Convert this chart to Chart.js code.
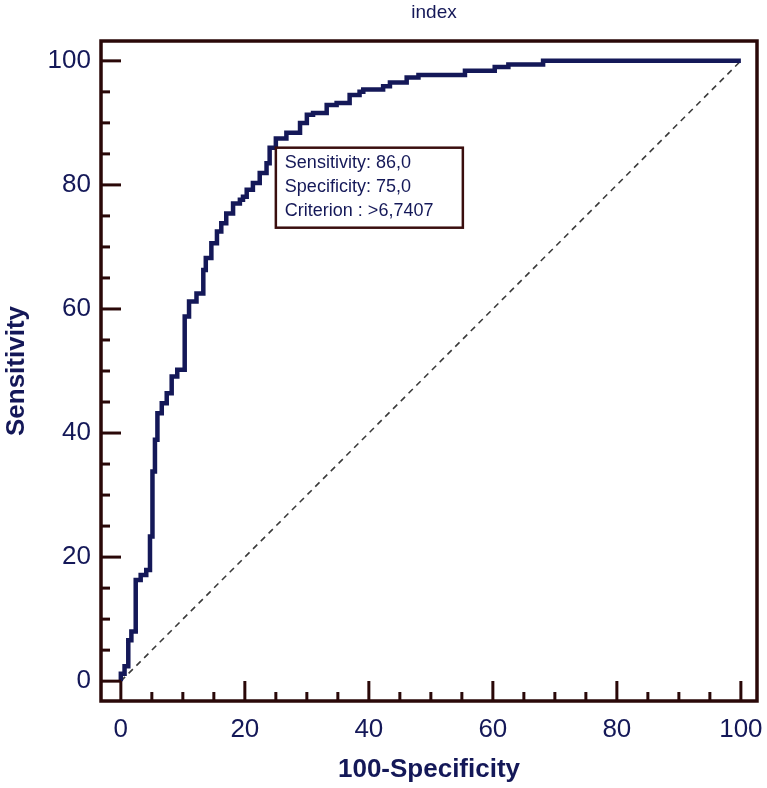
<!DOCTYPE html>
<html>
<head>
<meta charset="utf-8">
<script src="https://cdn.jsdelivr.net/npm/chart.js@4.4.1/dist/chart.umd.min.js"></script>
<style>
  body { margin: 0; background: #fff; }
</style>
</head>
<body>
<canvas id="rocChart" width="767" height="788"></canvas>
<script>
// ROC curve points (100-Specificity, Sensitivity)
const rocX = [0, 0.6, 1.2, 1.7, 2.4, 3.2, 4.1, 4.7, 5.1, 5.5, 5.9, 6.6, 7.4, 8.2, 9.1, 10.3, 11.0, 12.2, 13.3, 13.7,
  14.6, 15.5, 16.2, 17.0, 18.1, 19.2, 19.7, 20.3, 21.3, 22.4, 23.5, 24.0, 25.0, 26.7, 28.9, 30.0, 31.0, 33.2, 34.8,
  36.9, 38.5, 39.1, 42.3, 43.4, 46.1, 48.0, 55.5, 60.3, 62.5, 68.1, 76.7, 100];
const rocY = [0, 1.2, 2.4, 6.6, 8.0, 16.3, 17.1, 17.9, 23.3, 33.8, 38.9, 43.2, 44.8, 46.4, 49.1, 50.2, 58.8, 61.2, 62.5, 66.3,
  68.2, 70.6, 72.5, 73.8, 75.4, 77.0, 77.6, 78.1, 79.2, 80.3, 81.9, 83.5, 86.0, 87.5, 88.4, 90.0, 91.3, 91.6, 92.9,
  93.2, 94.5, 95.0, 95.4, 95.9, 96.5, 97.3, 97.7, 98.4, 99.0, 99.4, 100, 100];
const diagX = [0, 100];
const diagY = [0, 100];
const xTicks = [0, 20, 40, 60, 80, 100];
const yTicks = [0, 20, 40, 60, 80, 100];
const criterionPoint = [25, 86];
const criterionLines = ['Sensitivity: 86,0', 'Specificity: 75,0', 'Criterion : >6,7407'];

const navy = '#141858';
const frameColor = '#2a0808';

// frame, inward ticks, title and the criterion box
const framePlugin = {
  id: 'frame',
  afterDraw(chart) {
    const c = chart.ctx;
    const a = chart.chartArea;
    const xs = chart.scales.x;
    const ys = chart.scales.y;
    c.save();
    c.strokeStyle = frameColor;
    c.lineWidth = 3.5;
    c.strokeRect(a.left, a.top, a.right - a.left, a.bottom - a.top);

    c.lineWidth = 3;
    for (let v = 0; v <= 100; v += 5) {
      const len = v % 20 === 0 ? 20 : 9;
      const px = xs.getPixelForValue(v);
      c.beginPath();
      c.moveTo(px, a.bottom);
      c.lineTo(px, a.bottom - len);
      c.stroke();
      const py = ys.getPixelForValue(v);
      c.beginPath();
      c.moveTo(a.left, py);
      c.lineTo(a.left + len, py);
      c.stroke();
    }

    // criterion box
    const bx = xs.getPixelForValue(criterionPoint[0]);
    const by = ys.getPixelForValue(criterionPoint[1]);
    c.fillStyle = '#fff';
    c.fillRect(bx, by, 187, 80);
    c.lineWidth = 2.5;
    c.strokeStyle = '#3a0e0e';
    c.strokeRect(bx, by, 187, 80);
    c.fillStyle = navy;
    c.font = '18px "Liberation Sans", Arial, sans-serif';
    c.textBaseline = 'middle';
    c.textAlign = 'left';
    criterionLines.forEach((t, i) => c.fillText(t, bx + 9, by + 15 + i * 24));

    // title
    c.font = '19px "Liberation Sans", Arial, sans-serif';
    c.textAlign = 'center';
    c.fillText('index', 434, 13);
    c.restore();
  }
};

const ctx = document.getElementById('rocChart');

new Chart(ctx, {
  type: 'line',
  data: {
    datasets: [{
      data: rocX.map((x, i) => ({ x: x, y: rocY[i] })),
      borderColor: navy,
      borderWidth: 4.5,
      stepped: 'after',
      pointRadius: 0,
      fill: false,
      order: 1
    }, {
      data: diagX.map((x, i) => ({ x: x, y: diagY[i] })),
      borderColor: '#3a3a3a',
      borderWidth: 1.6,
      borderDash: [6, 5],
      pointRadius: 0,
      fill: false,
      order: 2
    }]
  },
  options: {
    responsive: false,
    animation: false,
    layout: {
      padding: { top: 41, right: 10, bottom: 0, left: 0 }
    },
    plugins: {
      legend: { display: false },
      tooltip: { enabled: false }
    },
    scales: {
      x: {
        type: 'linear',
        min: -3.2,
        max: 102.6,
        afterBuildTicks: s => { s.ticks = xTicks.map(v => ({ value: v })); },
        afterFit: s => { s.height = 87; s.paddingLeft = 0; s.paddingRight = 0; },
        grid: { display: false, drawTicks: false },
        border: { display: false },
        ticks: {
          padding: 13,
          color: navy,
          font: { family: '"Liberation Sans", Arial', size: 26 }
        },
        title: {
          display: true,
          text: '100-Specificity',
          color: navy,
          padding: { top: 0, bottom: 3 },
          font: { family: '"Liberation Sans", Arial', size: 26, weight: 'bold' }
        }
      },
      y: {
        type: 'linear',
        min: -3.2,
        max: 103.2,
        afterBuildTicks: s => { s.ticks = yTicks.map(v => ({ value: v })); },
        afterFit: s => { s.width = 101; s.paddingTop = 0; s.paddingBottom = 0; },
        grid: { display: false, drawTicks: false },
        border: { display: false },
        ticks: {
          padding: 10,
          color: navy,
          font: { family: '"Liberation Sans", Arial', size: 26 }
        },
        title: {
          display: true,
          text: 'Sensitivity',
          color: navy,
          padding: { top: 1, bottom: 0 },
          font: { family: '"Liberation Sans", Arial', size: 26, weight: 'bold' }
        }
      }
    }
  },
  plugins: [framePlugin]
});
</script>
</body>
</html>
